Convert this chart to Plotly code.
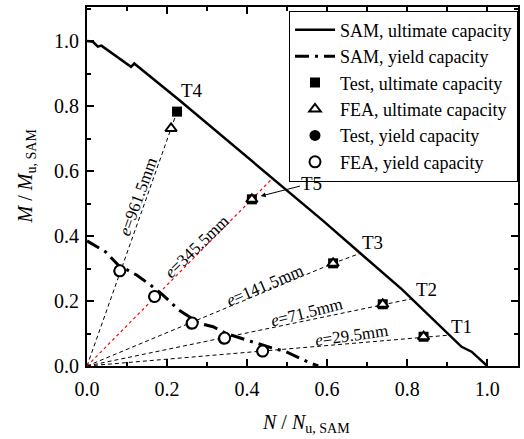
import plotly.graph_objects as go

# SAM interaction curves
sam_ult_n = [0.0, 0.015, 0.027, 0.036, 0.110, 0.118, 0.231, 0.588, 0.683, 0.774, 0.787, 0.936, 0.961, 1.0]
sam_ult_m = [1.0, 0.998, 0.983, 0.986, 0.921, 0.931, 0.818, 0.449, 0.347, 0.249, 0.236, 0.059, 0.044, 0.0]

sam_yld_n = [0.0, 0.046, 0.078, 0.124, 0.160, 0.190, 0.230, 0.281, 0.315, 0.348, 0.450, 0.497, 0.560, 0.578]
sam_yld_m = [0.385, 0.352, 0.311, 0.280, 0.248, 0.218, 0.172, 0.131, 0.121, 0.100, 0.060, 0.044, 0.008, 0.0]

# Specimens
specimens = ["T1", "T2", "T3", "T4", "T5"]
ecc_labels = ["e=29.5mm", "e=71.5mm", "e=141.5mm", "e=961.5mm", "e=345.5mm"]
test_ult_n = [0.841, 0.739, 0.615, 0.225, 0.412]
test_ult_m = [0.090, 0.190, 0.316, 0.783, 0.513]
fea_ult_n = [0.841, 0.739, 0.615, 0.210, 0.412]
fea_ult_m = [0.090, 0.190, 0.316, 0.731, 0.513]
test_yld_n = [0.437, 0.341, 0.260, 0.080, 0.167]
test_yld_m = [0.044, 0.083, 0.129, 0.291, 0.212]
fea_yld_n = [0.439, 0.344, 0.263, 0.082, 0.169]
fea_yld_m = [0.046, 0.086, 0.132, 0.293, 0.214]
ecc_end_n = [0.905, 0.812, 0.683, 0.225, 0.463]
ecc_end_m = [0.095, 0.207, 0.347, 0.783, 0.577]

FONT = "Liberation Serif"

fig = go.Figure()

# eccentricity lines
for i in range(5):
    red = specimens[i] == "T5"
    fig.add_trace(go.Scatter(
        x=[0, fea_ult_n[i], ecc_end_n[i]], y=[0, fea_ult_m[i], ecc_end_m[i]],
        mode="lines", showlegend=False, hoverinfo="skip",
        line=dict(color="red" if red else "black", width=1.2 if red else 1,
                  dash="3px,3px" if red else "4px,3px")))

fig.add_trace(go.Scatter(x=sam_ult_n, y=sam_ult_m, mode="lines",
                         name="SAM, ultimate capacity",
                         line=dict(color="black", width=2.5)))
fig.add_trace(go.Scatter(x=sam_yld_n, y=sam_yld_m, mode="lines",
                         name="SAM, yield capacity",
                         line=dict(color="black", width=3, dash="14px,6px,3px,6px")))
fig.add_trace(go.Scatter(x=test_ult_n, y=test_ult_m, mode="markers",
                         name="Test, ultimate capacity",
                         marker=dict(symbol="square", size=10, color="black")))
fig.add_trace(go.Scatter(x=fea_ult_n, y=fea_ult_m, mode="markers",
                         name="FEA, ultimate capacity",
                         marker=dict(symbol="triangle-up", size=10, color="white",
                                     line=dict(color="black", width=2))))
fig.add_trace(go.Scatter(x=test_yld_n, y=test_yld_m, mode="markers",
                         name="Test, yield capacity",
                         marker=dict(symbol="circle", size=11, color="black")))
fig.add_trace(go.Scatter(x=fea_yld_n, y=fea_yld_m, mode="markers",
                         name="FEA, yield capacity",
                         marker=dict(symbol="circle", size=11, color="white",
                                     line=dict(color="black", width=2))))

# eccentricity labels (position / angle)
ecc_pos_n = [0.660, 0.548, 0.444, 0.128, 0.275]
ecc_pos_m = [0.094, 0.166, 0.248, 0.522, 0.367]
ecc_ang = [-8, -14, -23, -70, -44]
for i in range(5):
    txt = ecc_labels[i].replace("e=", "<i>e</i>=")
    fig.add_annotation(x=ecc_pos_n[i], y=ecc_pos_m[i], text=txt, showarrow=False,
                       textangle=ecc_ang[i], font=dict(size=17, family=FONT, color="black"))

# specimen labels
lab_n = [0.936, 0.848, 0.714, 0.263]
lab_m = [0.123, 0.237, 0.379, 0.849]
for i in range(4):
    fig.add_annotation(x=lab_n[i], y=lab_m[i], text=specimens[i], showarrow=False,
                       font=dict(size=19, family=FONT, color="black"))
fig.add_annotation(x=0.434, y=0.523, ax=0.562, ay=0.563, axref="x", ayref="y",
                   text="T5", showarrow=True, arrowhead=2, arrowsize=1, arrowwidth=1,
                   arrowcolor="black", font=dict(size=19, family=FONT, color="black"))

# axis titles
fig.add_annotation(xref="paper", yref="paper", x=0.507, y=-0.16, yanchor="middle",
                   text="<i>N</i> / <i>N</i><sub>u, SAM</sub>", showarrow=False,
                   font=dict(size=20, family=FONT, color="black"))
fig.add_annotation(xref="paper", yref="paper", x=-0.14, y=0.53, xanchor="center",
                   text="<i>M</i> / <i>M</i><sub>u, SAM</sub>", showarrow=False, textangle=-90,
                   font=dict(size=20, family=FONT, color="black"))

axis_common = dict(showgrid=False, zeroline=False, showline=True, linecolor="black",
                   linewidth=2, mirror="allticks", ticks="inside", ticklen=7, tickwidth=1.5,
                   tickcolor="black", tickfont=dict(size=20, family=FONT, color="black"),
                   tickformat=".1f", dtick=0.2, tick0=0,
                   minor=dict(ticks="inside", ticklen=4, tickwidth=1.5, dtick=0.1,
                              tickcolor="black", showgrid=False))

fig.update_xaxes(range=[0, 1.077], ticklabelstandoff=4, **axis_common)
fig.update_yaxes(range=[0, 1.105], ticklabelstandoff=2, **axis_common)

fig.update_layout(
    width=524, height=439,
    margin=dict(l=87, r=4, t=7, b=73),
    plot_bgcolor="white", paper_bgcolor="white",
    font=dict(family=FONT, color="black"),
    showlegend=True,
    legend=dict(x=1, y=0.99, xanchor="right", yanchor="top",
                bgcolor="white", bordercolor="black", borderwidth=1,
                font=dict(size=18, family=FONT, color="black"),
                tracegroupgap=0, itemwidth=40),
)

fig.write_html("out.html")
